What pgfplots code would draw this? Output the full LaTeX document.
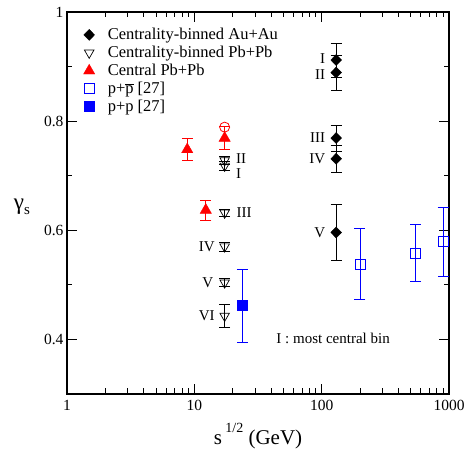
\documentclass[border=0pt]{standalone}
\usepackage{fontspec}
\setmainfont{Liberation Serif}
\usepackage{pgfplots}
\usetikzlibrary{calc}
\pgfplotsset{compat=1.18}
\begin{document}
\begin{tikzpicture}
\begin{axis}[
  scale only axis, width=382pt, height=382pt,
  xmode=log, xmin=1, xmax=1000, ymin=0.3, ymax=1,
  xtick={1,10,100,1000}, xticklabels={1,10,100,1000},
  minor xtick={2,3,4,5,6,7,8,9,20,30,40,50,60,70,80,90,200,300,400,500,600,700,800,900},
  ytick={0.4,0.6,0.8,1}, yticklabels={0.4,0.6,0.8,1},
  minor ytick={0.5,0.7,0.9},
  tick align=inside, major tick length=10pt, minor tick length=5.5pt,
  axis line style={line width=1.3pt},
  every tick/.style={black, line width=0.8pt},
  ticklabel style={font=\fontsize{15.5}{15.5}\selectfont},
  xticklabel style={yshift=-2.5pt},
  /pgf/number format/assume math mode=true,
  xlabel={\fontsize{21}{21}\selectfont s\,\raisebox{1.2ex}{\fontsize{14}{14}\selectfont 1/2} (GeV)},
  xlabel style={at={(axis description cs:0.5,-0.11)}, anchor=center},
  ylabel={\fontsize{23}{23}\selectfont γ\raisebox{-0.45ex}{\fontsize{15}{15}\selectfont s}},
  ylabel style={rotate=-90, at={(axis description cs:-0.118,0.49)}, anchor=center},
  legend style={draw=none, fill=none, at={(0.035,0.968)}, anchor=north west,
    font=\fontsize{16.5}{18}\selectfont, row sep=1pt,
    /tikz/every odd column/.append style={column sep=11pt}},
  legend cell align=left,
]
% Au+Au centrality binned
\addplot[only marks, color=black, mark=diamond*, mark size=5.5pt, mark options={draw=black, fill=black, xscale=1.3},
  error bars/.cd, y dir=both, y explicit,
  error bar style={black, line width=0.8pt},
  error mark options={rotate=90, mark size=5.5pt, black, line width=0.8pt}]
  coordinates {
  (130,0.912) +- (0,0.031)
  (130,0.889) +- (0,0.032)
  (130,0.769) +- (0,0.024)
  (130,0.731) +- (0,0.025)
  (130,0.596) +- (0,0.051)
  };
\addlegendentry{Centrality-binned Au+Au}
% Pb+Pb centrality binned
\addplot[only marks, color=black, mark=triangle, mark size=5.5pt, mark options={draw=black, fill=white, rotate=180, line width=0.7pt},
  error bars/.cd, y dir=both, y explicit,
  error bar style={black, line width=0.8pt},
  error mark options={rotate=90, mark size=5.5pt, black, line width=0.8pt}]
  coordinates {
  (17.3,0.728) +- (0,0.008)
  (17.3,0.718) +- (0,0.008)
  (17.3,0.632) +- (0,0.007)
  (17.3,0.570) +- (0,0.008)
  (17.3,0.504) +- (0,0.007)
  (17.3,0.443) +- (0,0.021)
  };
\addlegendentry{Centrality-binned Pb+Pb}
% Central Pb+Pb
\addplot[only marks, color=red, mark=triangle*, mark size=6.5pt, mark options={draw=red, fill=red},
  error bars/.cd, y dir=both, y explicit,
  error bar style={red, line width=0.8pt},
  error mark options={rotate=90, mark size=5.5pt, red, line width=0.8pt}]
  coordinates {
  (8.8,0.748) +- (0,0.020)
  (12.3,0.637) +- (0,0.018)
  (17.3,0.769) +- (0,0.021)
  };
\addlegendentry{Central Pb+Pb}
% p+pbar
\addplot[only marks, color=blue, mark=square, mark size=5pt, mark options={draw=blue, fill=none, line width=0.9pt},
  error bars/.cd, y dir=both, y explicit,
  error bar style={blue, line width=0.8pt},
  error mark options={rotate=90, mark size=5.5pt, blue, line width=0.8pt}]
  coordinates {
  (200,0.538) +- (0,0.065)
  (546,0.558) +- (0,0.052)
  (900,0.579) +- (0,0.063)
  };
\addlegendentry{p+$\overline{\mbox{p}}$ [27]}
% p+p
\addplot[only marks, color=blue, mark=square*, mark size=5pt, mark options={draw=blue, fill=blue},
  error bars/.cd, y dir=both, y explicit,
  error bar style={blue, line width=0.8pt},
  error mark options={rotate=90, mark size=5.5pt, blue, line width=0.8pt}]
  coordinates {
  (23.8,0.462) +- (0,0.067)
  };
\addlegendentry{p+p [27]}
% open red circle
\addplot[only marks, color=red, mark=o, mark size=5pt, mark options={draw=red, line width=0.8pt}, forget plot]
  coordinates {(17.3,0.789)};
% labels
\begin{scope}[every node/.style={font=\fontsize{15}{15}\selectfont, inner sep=0pt}]
\node[anchor=east] at (axis cs:107,0.915) {I};
\node[anchor=east] at (axis cs:107,0.886) {II};
\node[anchor=east] at (axis cs:107,0.769) {III};
\node[anchor=east] at (axis cs:107,0.731) {IV};
\node[anchor=east] at (axis cs:107,0.596) {V};
\node[anchor=west] at (axis cs:21.2,0.732) {II};
\node[anchor=west] at (axis cs:21.2,0.704) {I};
\node[anchor=west] at (axis cs:21.4,0.632) {III};
\node[anchor=east] at (axis cs:14.5,0.570) {IV};
\node[anchor=east] at (axis cs:14.1,0.504) {V};
\node[anchor=east] at (axis cs:14.5,0.443) {VI};
\node at (axis cs:123,0.401) {I : most central bin};
\end{scope}
\end{axis}
\pgfresetboundingbox
\path[use as bounding box] ($(current axis.south west)+(-67pt,-58pt)$) rectangle ($(current axis.north east)+(20pt,12pt)$);
\end{tikzpicture}
\end{document}
